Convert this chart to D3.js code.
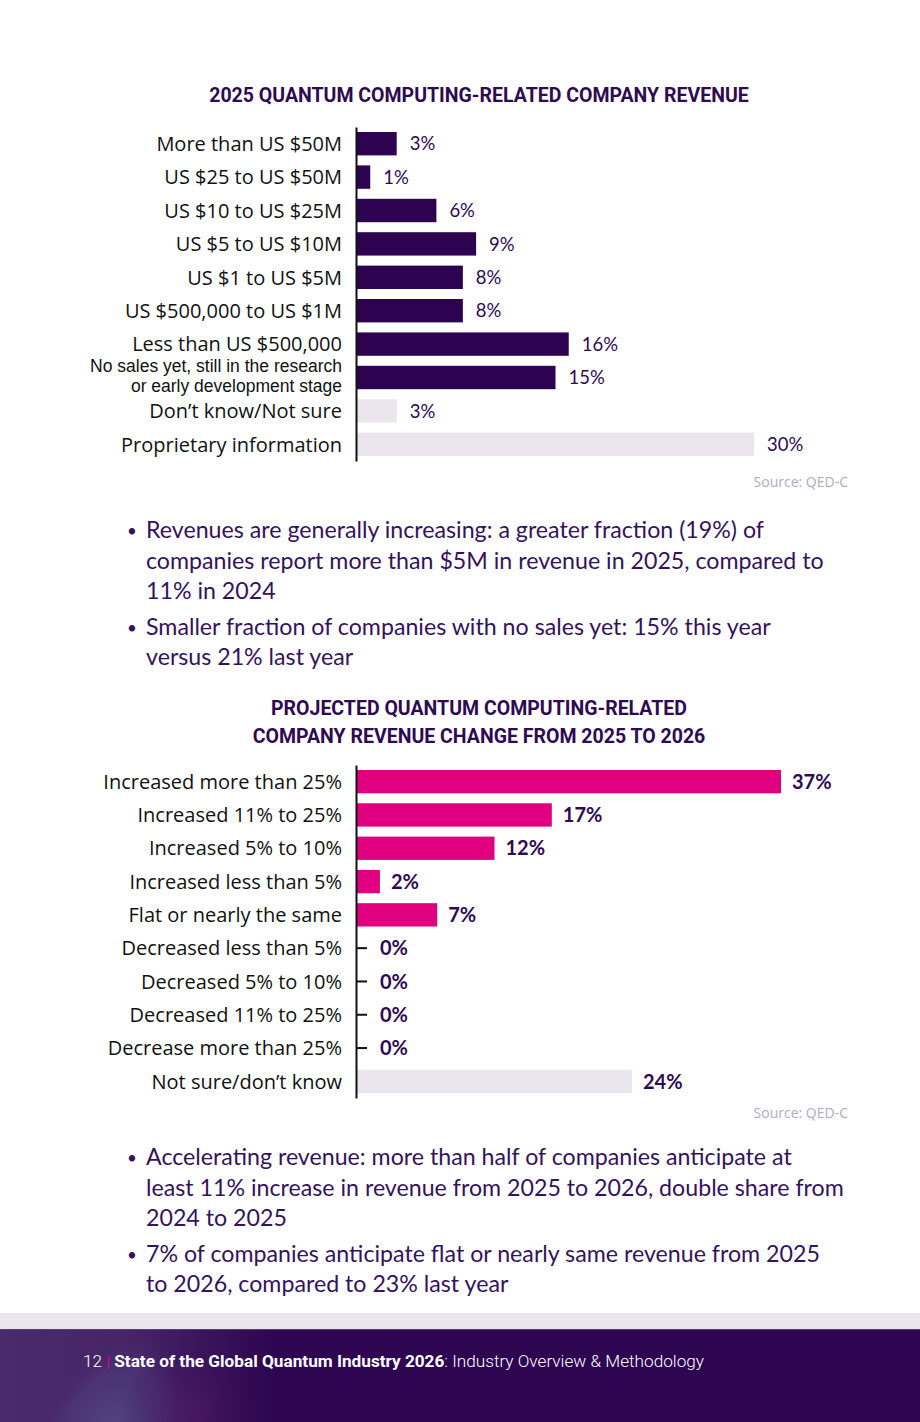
<!DOCTYPE html>
<html>
<head>
<meta charset="utf-8">
<script src="https://cdn.jsdelivr.net/npm/d3@7"></script>
<style>
  html, body { margin: 0; padding: 0; background: #ffffff; }
  svg { display: block; }
</style>
</head>
<body>
<div id="chart"></div>
<script>
// ---------- DATA ----------
const topTitle = "2025 QUANTUM COMPUTING-RELATED COMPANY REVENUE";
const topCategories = [
  "More than US $50M",
  "US $25 to US $50M",
  "US $10 to US $25M",
  "US $5 to US $10M",
  "US $1 to US $5M",
  "US $500,000 to US $1M",
  "Less than US $500,000",
  "No sales yet, still in the research|or early development stage",
  "Don\u2019t know/Not sure",
  "Proprietary information"
];
const topValues = [3, 1, 6, 9, 8, 8, 16, 15, 3, 30];
const topKinds = ["main","main","main","main","main","main","main","main","other","other"];

const bottomTitle = ["PROJECTED QUANTUM COMPUTING-RELATED", "COMPANY REVENUE CHANGE FROM 2025 TO 2026"];
const bottomCategories = [
  "Increased more than 25%",
  "Increased 11% to 25%",
  "Increased 5% to 10%",
  "Increased less than 5%",
  "Flat or nearly the same",
  "Decreased less than 5%",
  "Decreased 5% to 10%",
  "Decreased 11% to 25%",
  "Decrease more than 25%",
  "Not sure/don\u2019t know"
];
const bottomValues = [37, 17, 12, 2, 7, 0, 0, 0, 0, 24];
const bottomKinds = ["main","main","main","main","main","main","main","main","main","other"];

const sourceText = "Source: QED-C";

const bullets1 = [
  ["Revenues are generally increasing: a greater fraction (19%) of",
   "companies report more than $5M in revenue in 2025, compared to",
   "11% in 2024"],
  ["Smaller fraction of companies with no sales yet: 15% this year",
   "versus 21% last year"]
];
const bullets2 = [
  ["Accelerating revenue: more than half of companies anticipate at",
   "least 11% increase in revenue from 2025 to 2026, double share from",
   "2024 to 2025"],
  ["7% of companies anticipate flat or nearly same revenue from 2025",
   "to 2026, compared to 23% last year"]
];

const footerParts = [
  {t: "12", w: 300, c: "#ffffff"},
  {t: " | ", w: 300, c: "#e0007f"},
  {t: "State of the Global Quantum Industry 2026", w: 700, c: "#ffffff"},
  {t: ": Industry Overview & Methodology", w: 300, c: "#ffffff"}
];

// ---------- STYLE ----------
const W = 920, H = 1422;
const C = {
  dark: "#2d0250",
  light: "#ebe6ee",
  pink: "#e0007f",
  text: "#2e0a52",
  bullet: "#35125c",
  label: "#111111",
  source: "#b3aac4"
};

const svg = d3.select("#chart").append("svg")
  .attr("width", W).attr("height", H)
  .attr("viewBox", `0 0 ${W} ${H}`);

const defs = svg.append("defs");

// ---------- TITLES ----------
svg.append("text")
  .attr("x", 479).attr("y", 102)
  .attr("text-anchor", "middle")
  .style("font-family", "Roboto, sans-serif")
  .style("font-weight", 700)
  .style("font-size", "19.5px")
  .style("fill", C.text)
  .text(topTitle);

bottomTitle.forEach((t, i) => {
  svg.append("text")
    .attr("x", 479).attr("y", 715 + i * 28)
    .attr("text-anchor", "middle")
    .style("font-family", "Roboto, sans-serif")
    .style("font-weight", 700)
    .style("font-size", "19.5px")
    .style("fill", C.text)
    .text(t);
});

// ---------- CHART BUILDER ----------
function drawChart(opts) {
  const g = svg.append("g");
  const y = d3.scaleBand()
    .domain(opts.categories)
    .range(opts.yRange)
    .paddingInner(0.3)
    .paddingOuter(0.15);
  const x = d3.scaleLinear()
    .domain([0, opts.xMax])
    .range([opts.x0, opts.xEnd]);

  const data = opts.categories.map((c, i) => ({c, v: opts.values[i], k: opts.kinds[i]}));

  // bars
  g.selectAll("rect.bar").data(data.filter(d => d.v > 0)).join("rect")
    .attr("class", "bar")
    .attr("x", x(0))
    .attr("y", d => y(d.c))
    .attr("width", d => x(d.v) - x(0))
    .attr("height", y.bandwidth())
    .attr("fill", d => d.k === "main" ? opts.color : C.light);

  // zero ticks
  g.selectAll("line.zero").data(data.filter(d => d.v === 0)).join("line")
    .attr("class", "zero")
    .attr("x1", x(0)).attr("x2", x(0) + 10)
    .attr("y1", d => y(d.c) + y.bandwidth() / 2)
    .attr("y2", d => y(d.c) + y.bandwidth() / 2)
    .attr("stroke", "#111").attr("stroke-width", 2);

  // axis with labels
  const axis = d3.axisLeft(y).tickSize(0).tickSizeOuter(0).tickPadding(14)
    .tickFormat(d => d.split("|")[0]);
  const ag = g.append("g")
    .attr("transform", `translate(${x(0) - 1},0)`)
    .call(axis);
  ag.select(".domain").attr("stroke", "#111").attr("stroke-width", 2);
  ag.selectAll(".tick text")
    .style("font-family", "'Open Sans', sans-serif")
    .style("font-size", "20px")
    .style("fill", C.label)
    .attr("dy", "0.36em");
  ag.selectAll(".tick text").filter(d => d.includes("|")).each(function(d) {
    const parts = d.split("|");
    const t = d3.select(this).text(null).attr("dy", null)
      .style("font-family", "'Liberation Sans', Arial, sans-serif")
      .style("font-size", "17.5px");
    parts.forEach((p, i) => {
      t.append("tspan").attr("x", -14).attr("y", i === 0 ? -5.5 : 14).text(p);
    });
  });

  // value labels
  g.selectAll("text.val").data(data).join("text")
    .attr("class", "val")
    .attr("x", d => d.v > 0 ? x(d.v) + opts.labelGap : x(0) + opts.zeroGap)
    .attr("y", d => y(d.c) + y.bandwidth() / 2)
    .attr("dy", "0.36em")
    .style("font-family", "Lato, sans-serif")
    .style("font-weight", opts.labelWeight)
    .style("font-size", opts.labelSize)
    .style("fill", C.text)
    .text(d => d.v + "%");
}

drawChart({
  categories: topCategories, values: topValues, kinds: topKinds,
  yRange: [127, 461], xMax: 30, x0: 357, xEnd: 754,
  color: C.dark, labelGap: 13, zeroGap: 24, labelWeight: 400, labelSize: "18.5px"
});

drawChart({
  categories: bottomCategories, values: bottomValues, kinds: bottomKinds,
  yRange: [765, 1098], xMax: 37, x0: 357, xEnd: 781,
  color: C.pink, labelGap: 11, zeroGap: 23, labelWeight: 700, labelSize: "20px"
});

// ---------- SOURCES ----------
[487, 1118].forEach(yy => {
  svg.append("text")
    .attr("x", 848).attr("y", yy)
    .attr("text-anchor", "end")
    .style("font-family", "'Open Sans', sans-serif")
    .style("font-size", "14px")
    .style("fill", C.source)
    .text(sourceText);
});

// ---------- BULLETS ----------
function drawBullets(list, startY) {
  let yy = startY;
  list.forEach((lines, bi) => {
    svg.append("text")
      .attr("x", 127).attr("y", yy - 1)
      .style("font-family", "Lato, sans-serif")
      .style("font-size", "17px")
      .style("fill", C.bullet)
      .text("\u2022");
    lines.forEach((ln, li) => {
      svg.append("text")
        .attr("x", 146).attr("y", yy + li * 30.5)
        .style("font-family", "Lato, sans-serif")
        .style("font-size", "23.2px")
        .style("fill", C.bullet)
        .text(ln);
    });
    yy += lines.length * 30.5 + 5;
  });
}
drawBullets(bullets1, 538);
drawBullets(bullets2, 1165);

// ---------- FOOTER ----------
svg.append("rect").attr("x", 0).attr("y", 1313).attr("width", W).attr("height", 16).attr("fill", "#ebe6ee");
const lg = defs.append("linearGradient").attr("id", "fg").attr("x1", 0).attr("x2", 1).attr("y1", 0).attr("y2", 0);
lg.append("stop").attr("offset", "0").attr("stop-color", "#4b2a6c");
lg.append("stop").attr("offset", "0.14").attr("stop-color", "#462466");
lg.append("stop").attr("offset", "0.3").attr("stop-color", "#2d0550");
lg.append("stop").attr("offset", "1").attr("stop-color", "#2d0550");
svg.append("rect").attr("x", 0).attr("y", 1329).attr("width", W).attr("height", H - 1329).attr("fill", "url(#fg)");
svg.append("line").attr("x1", 0).attr("x2", W).attr("y1", 1329.5).attr("y2", 1329.5).attr("stroke", "#5a3a7a").attr("stroke-width", 1);

const rg = defs.append("radialGradient").attr("id", "blob");
rg.append("stop").attr("offset", "0").attr("stop-color", "#5a6a98").attr("stop-opacity", 0.55);
rg.append("stop").attr("offset", "0.7").attr("stop-color", "#524a86").attr("stop-opacity", 0.35);
rg.append("stop").attr("offset", "1").attr("stop-color", "#4a2a6c").attr("stop-opacity", 0);
svg.append("ellipse").attr("cx", 110).attr("cy", 1440).attr("rx", 70).attr("ry", 110)
  .attr("transform", "rotate(25,110,1440)").attr("fill", "url(#blob)");
const rg2 = defs.append("radialGradient").attr("id", "blob2");
rg2.append("stop").attr("offset", "0").attr("stop-color", "#5a1a6a").attr("stop-opacity", 0.5);
rg2.append("stop").attr("offset", "1").attr("stop-color", "#3a0a5a").attr("stop-opacity", 0);
svg.append("ellipse").attr("cx", 190).attr("cy", 1410).attr("rx", 70).attr("ry", 60).attr("fill", "url(#blob2)");

const ft = svg.append("text")
  .attr("x", 83).attr("y", 1367)
  .style("font-family", "Roboto, sans-serif")
  .style("font-size", "17.2px");
footerParts.forEach(p => {
  ft.append("tspan").style("font-weight", p.w).style("fill", p.c).text(p.t);
});
</script>
</body>
</html>
